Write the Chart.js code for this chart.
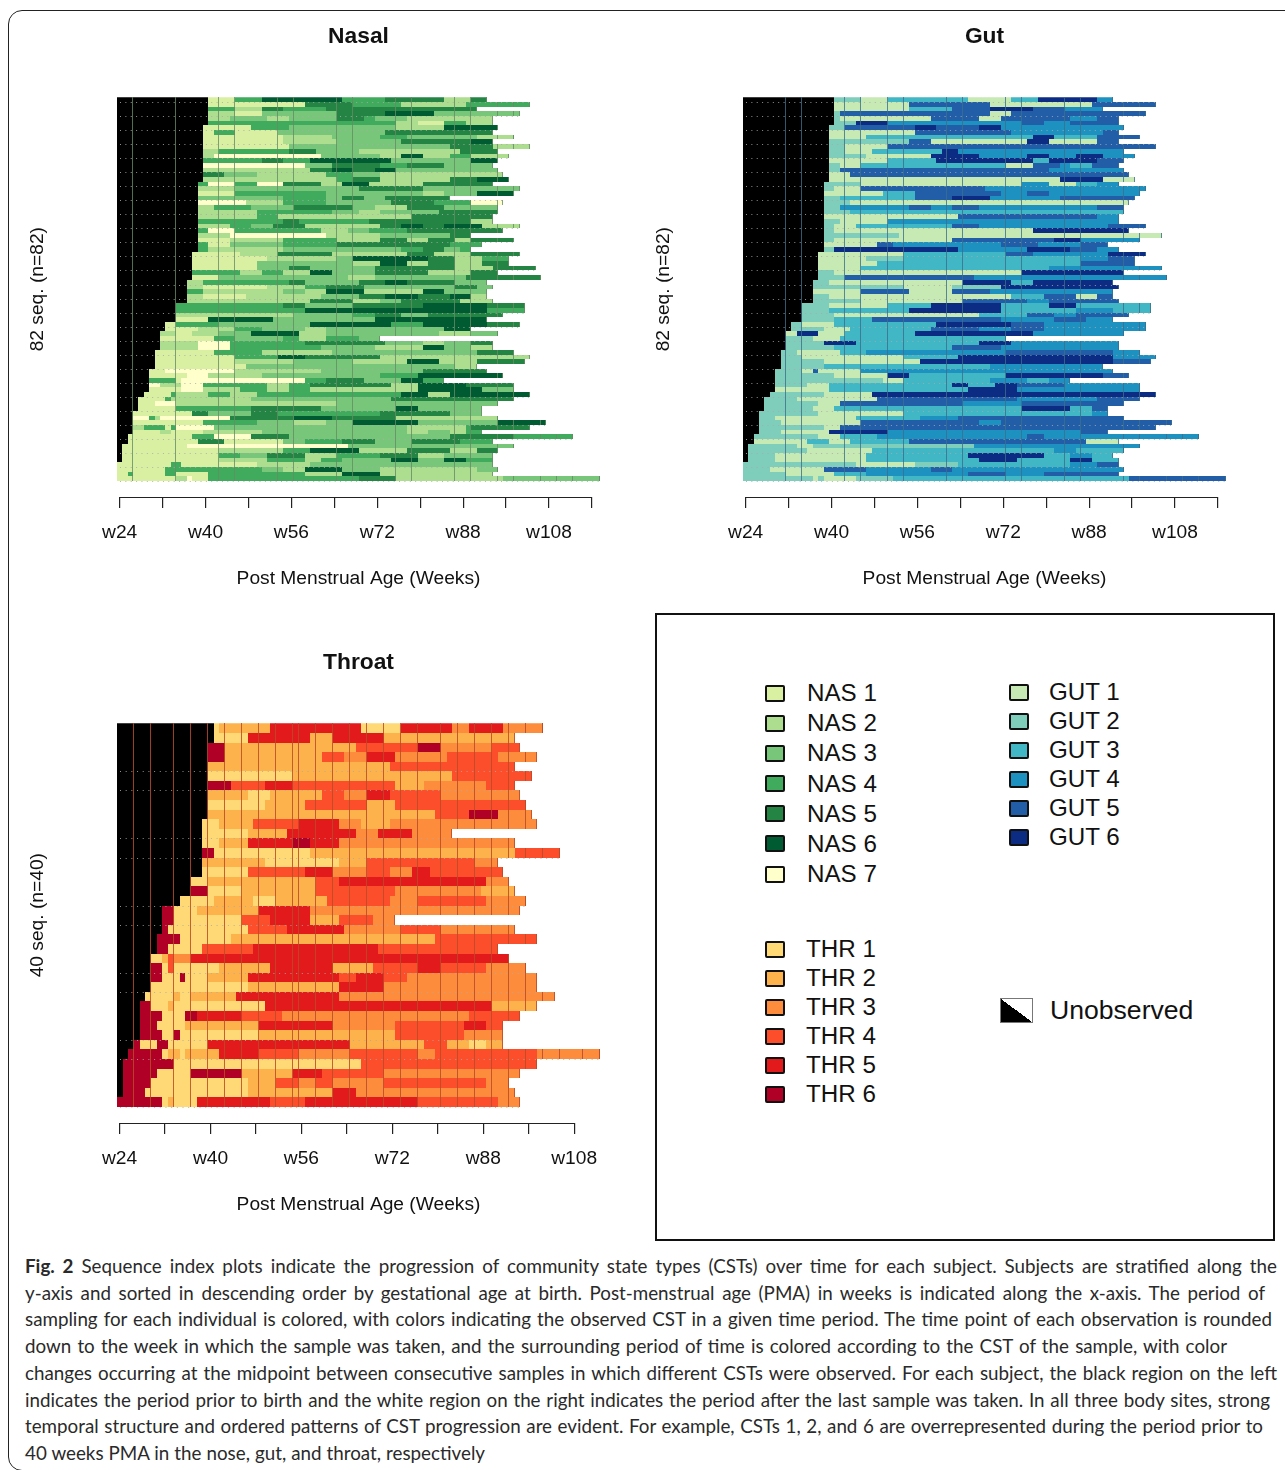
<!DOCTYPE html>
<html>
<head>
<meta charset="utf-8">
<title>Fig. 2</title>
<script src="https://cdn.jsdelivr.net/npm/chart.js@4"></script>
<style>
html, body { margin: 0; padding: 0; background: #fff; }
body { position: relative; width: 1285px; height: 1470px; overflow: hidden; font-family: "Liberation Sans", Arial, sans-serif; color: #111; }
#frame { position: absolute; left: 8px; top: 10px; width: 1400px; height: 1461px; border: 1.3px solid #222; border-radius: 14px; box-sizing: border-box; }
.wrap { position: absolute; width: 590px; height: 585px; }
.wrap canvas { display: block; }
#panel { position: absolute; left: 655px; top: 613px; width: 620px; height: 628px; border: 2px solid #111; box-sizing: border-box; }
.key { position: absolute; font-size: 24.2px; line-height: 28px; white-space: nowrap; }
.swatch { position: absolute; width: 20px; height: 17px; border: 2px solid #111; border-radius: 2px; box-sizing: border-box; }
#unobs { position: absolute; left: 1000px; top: 998px; width: 33px; height: 25px; border: 1px solid #777; box-sizing: border-box; background: linear-gradient(to top right, #000 50%, #fff 50%); }
.cap { position: absolute; left: 25px; height: 26px; line-height: 26px; font-family: Lato, "Open Sans", sans-serif; font-size: 18.8px; color: #2a2a2a; white-space: nowrap; text-align: justify; text-align-last: justify; }
</style>
</head>
<body>
<div id="frame"></div>
<div class="wrap" style="left:15px;top:15px"><canvas id="nasalChart" width="590" height="585"></canvas></div>
<div class="wrap" style="left:641px;top:15px"><canvas id="gutChart" width="590" height="585"></canvas></div>
<div class="wrap" style="left:15px;top:641px"><canvas id="throatChart" width="590" height="585"></canvas></div>
<div id="panel"></div>
<div id="unobs"></div>
<div id="legend"></div>
<div id="caption"></div>

<script>
// each row: state, end week (counted from the left edge of the plot), state, end week ...
// state 0 is the black "before birth" stretch
var nasalRows = [
    [0,17,1,22,4,27,6,42,4,50,5,61,2,66,5,69],
    [0,17,1,35,5,44,4,53,2,65,4,77],
    [0,17,4,22,2,27,5,31,4,39,5,67],
    [0,17,2,22,1,27,3,41,5,50,6,59,3,75],
    [0,17,2,21,3,28,2,32,3,41,5,46,4,48,3,54,2,70],
    [0,17,4,52,2,56,1,61,4,65,2,70],
    [0,16,1,25,4,32,3,52,2,61,6,71],
    [0,16,1,18,4,22,1,30,3,50,5,70],
    [0,16,1,31,2,40,3,49,4,54,3,67,2,74],
    [0,16,1,31,2,41,3,53,5,66,6,70],
    [0,16,1,32,3,62,5,70,2,77],
    [0,16,2,19,4,32,5,37,3,45,2,64,5,71],
    [0,16,2,18,7,38,3,49,2,53,6,57,2,62,4,66,2,73],
    [0,16,4,27,5,31,4,36,6,51,3,66,6,71],
    [0,16,7,35,3,40,5,49,4,54,5,61,3,70],
    [0,16,2,36,5,40,6,44,5,48,6,52,3,71],
    [0,16,5,20,3,26,2,39,4,44,3,49,2,72],
    [0,16,2,41,4,44,5,49,2,62,5,67,6,73],
    [0,15,4,17,7,22,4,26,7,31,5,38,2,42,6,47,2,57,5,70],
    [0,15,2,22,3,45,5,57,3,75],
    [0,15,1,22,4,39,3,57,2,61,3,67,6,74],
    [0,15,3,31,4,39,3,42,5,46,3,50,5,62],
    [0,15,7,24,2,31,4,39,3,51,5,59,4,66,7,72],
    [0,15,2,18,4,25,3,33,5,44,3,48,2,54,5,61,3,71],
    [0,15,2,26,4,40,3,45,2,49,3,60,5,71],
    [0,15,2,26,4,30,2,55,5,70],
    [0,15,4,31,5,34,4,47,5,66,2,70],
    [0,15,2,21,4,25,3,29,5,35,2,49,5,53,6,57,5,61,6,68,2,75],
    [0,15,4,17,7,22,4,38,2,43,3,47,4,54,5,72],
    [0,15,2,21,7,39,2,49,3,62,5,66],
    [0,15,1,21,2,31,4,41,2,49,5,54,2,58,5,63,2,66,5,74],
    [0,15,4,17,1,21,3,31,4,41,5,62,4,68],
    [0,15,4,17,2,31,3,53,4,57,5,61,3,64,4,66],
    [0,14,1,23,2,30,5,40,2,54,5,59,2,66,5,75],
    [0,14,1,28,2,41,3,44,6,58,5,63,2,68,4,73],
    [0,14,1,26,3,44,2,49,6,54,2,58,5,63,2,68,5,73],
    [0,14,1,26,3,32,5,36,3,48,5,63,2,70,5,78],
    [0,14,4,23,2,27,4,31,2,36,6,40,3,48,5,58,2,66,5,71],
    [0,14,1,19,3,43,2,48,3,65,5,79],
    [0,13,2,16,4,32,5,35,3,45,5,50,6,54,5,63,3,69],
    [0,13,2,16,1,28,2,35,4,39,5,46,3,63,5,67,3,70],
    [0,13,4,16,2,31,3,35,2,39,6,46,2,57,6,61,3,69],
    [0,13,2,16,1,24,2,38,3,45,5,50,6,56,5,62,6,66,2,69],
    [0,13,2,36,5,44,2,49,3,53,5,64,2,70],
    [0,11,4,31,5,35,3,44,5,57,6,69,5,76],
    [0,11,4,35,6,69,4,76],
    [0,11,2,33,3,44,4,48,5,53,3,58,5,72],
    [0,11,1,17,6,29,3,48,6,69],
    [0,9,1,11,4,19,3,36,6,51,4,57,6,69,5,75],
    [0,9,1,15,2,22,4,27,3,35,2,39,3,61,6,66],
    [0,8,2,11,1,14,2,19,3,25,6,34,2,39,3,60,2,66,3,71],
    [0,8,1,18,4,22,3,31,4,34,2,39,4,45,3,49],
    [0,8,2,15,7,21,4,35,5,50,3,57,2,61,3,66,5,70],
    [0,8,2,15,7,21,4,38,3,48,2,57,6,61,3,66,2,70],
    [0,7,1,18,4,27,2,40,3,67,5,74],
    [0,7,1,22,4,30,6,35,5,49,2,77],
    [0,7,1,22,2,33,3,44,2,54,6,60,2,67,5,76],
    [0,7,1,24,3,63,2,67],
    [0,6,1,9,7,22,2,38,3,57,5,69],
    [0,6,1,13,7,17,2,27,3,49,4,56,6,72],
    [0,6,4,11,1,12,7,35,4,39,5,46,3,53,6,57,4,61],
    [0,6,7,8,2,12,7,16,4,28,2,32,4,36,5,51,2,56,6,65,5,74],
    [0,6,1,12,7,16,2,23,4,28,2,32,4,36,2,56,6,68,3,74],
    [0,5,1,10,4,11,2,17,4,21,2,26,4,53,6,58,2,62,6,77],
    [0,4,1,9,4,10,2,25,3,51,5,74],
    [0,4,1,7,7,11,2,41,3,71],
    [0,4,1,11,4,25,5,38,3,52,6,56,3,68],
    [0,3,1,14,5,17,3,25,5,30,4,49,5,62,3,68],
    [0,3,7,6,4,7,2,8,7,21,5,33,6,40,5,52,2,71],
    [0,3,1,16,4,26,3,33,2,39,3,44,6,56,3,71,6,80],
    [0,3,2,5,4,9,1,10,4,11,7,18,3,54,2,65,4,66,5,77],
    [0,3,1,8,2,10,1,16,2,27,3,54,2,58,3,62,2,65,4,68],
    [0,2,1,14,4,18,7,25,5,32,3,62,5,74,4,85],
    [0,2,1,15,5,20,1,31,3,35,4,42,5,48,3,55,5,64,4,70],
    [0,1,1,13,7,43,3,74],
    [0,1,1,19,2,31,4,36,6,45,2,54,5,62,2,67,5,71],
    [0,1,1,19,4,23,3,28,5,35,2,41,4,49,5,56,2,61,3,70],
    [0,1,1,19,2,28,4,35,2,38,4,42,3,51,6,56,3,61,6,65,4,70],
    [1,10,4,12,1,26,2,36,3,70],
    [1,9,4,27,3,31,2,35,6,42,3,49,2,67,3,71],
    [1,2,4,3,1,9,4,11,1,17,4,35,2,42,6,49,2,70],
    [1,11,2,13,7,14,1,17,4,45,5,52,2,72,3,90]
];

var gutRows = [
    [0,17,2,22,1,27,3,42,1,50,3,55,6,66,4,69],
    [0,17,1,31,5,46,1,65,5,77],
    [0,17,1,31,3,39,5,46,6,54,5,60,4,67],
    [0,17,2,18,5,46,1,50,5,75],
    [0,17,2,18,1,35,5,44,1,48,5,61,4,66,5,70],
    [0,17,2,21,6,27,4,52,5,56,4,61,5,70],
    [0,16,2,19,5,32,6,36,5,44,6,48,4,71],
    [0,16,1,32,5,50,4,67,5,70],
    [0,16,1,23,3,54,6,58,3,66,5,74],
    [0,16,2,31,5,35,1,53,6,57,1,66,5,70],
    [0,16,2,19,1,27,5,77],
    [0,16,2,19,1,24,3,37,6,40,4,71],
    [0,16,2,23,1,35,6,44,4,53,6,57,4,62,6,67,4,73],
    [0,16,1,27,3,36,6,54,3,57,6,66,5,71],
    [0,16,2,18,1,22,3,49,1,54,5,59,4,61,3,65,5,70],
    [0,16,2,18,5,57,4,71],
    [0,16,1,20,5,72],
    [0,16,1,59,6,67,1,73],
    [0,15,2,22,1,52,4,57,1,62,3,66,4,70],
    [0,15,2,17,1,22,5,45,4,75],
    [0,15,1,26,3,32,5,48,4,53,5,57,4,74],
    [0,15,2,18,3,32,5,39,6,46,4,59,5,73],
    [0,15,2,20,1,72],
    [0,15,2,18,4,31,5,35,4,39,5,44,4,66,5,71],
    [0,15,2,20,3,71],
    [0,15,1,40,5,66,4,70],
    [0,15,2,18,1,27,4,70],
    [0,15,2,17,1,21,3,39,5,44,4,68,5,75],
    [0,15,2,17,1,54,6,72],
    [0,15,2,29,1,78],
    [0,15,2,17,1,39,5,58,6,63,4,74],
    [0,15,1,25,5,28,4,48,5,55,4,63,5,68],
    [0,15,2,17,6,40,4,53,6,61,5,66,4,70],
    [0,14,1,30,3,49,5,54,4,68,6,75],
    [0,14,1,23,2,30,3,63,4,68,5,73],
    [0,14,1,25,3,63,5,73],
    [0,14,1,22,3,57,4,78],
    [0,14,2,17,1,52,6,71],
    [0,14,2,19,5,43,4,79],
    [0,13,2,16,1,41,6,50,3,54,6,69],
    [0,13,2,30,1,39,2,48,6,70],
    [0,13,1,22,5,31,1,39,5,46,4,69],
    [0,13,2,16,1,50,3,56,5,62,1,66,5,69],
    [0,13,2,22,1,41,5,53,4,57,5,70],
    [0,11,2,16,1,27,3,35,6,48,3,57,6,62,3,76],
    [0,11,2,16,3,31,6,48,3,62,4,69,3,76],
    [0,11,2,17,1,44,3,53,5,58,4,62,5,72],
    [0,11,2,17,3,24,5,48,4,58,5,64,4,69],
    [0,9,2,11,1,17,3,36,6,50,5,56,4,75],
    [0,9,2,15,1,20,3,35,5,44,4,50,5,56,4,75],
    [0,8,1,10,6,14,1,19,3,32,6,54,4,71],
    [0,8,2,13,1,18,3,49],
    [0,8,2,15,6,21,3,44,6,50,4,70],
    [0,8,2,17,3,39,5,48,4,70],
    [0,7,2,10,1,18,3,23,4,49,5,69,4,74],
    [0,7,2,11,1,30,3,40,6,69,4,77],
    [0,7,2,15,1,33,6,69,5,76],
    [0,7,2,15,3,46,4,67],
    [0,6,2,11,1,13,5,14,1,22,4,69],
    [0,6,2,17,1,27,6,31,3,49,6,67,5,72],
    [0,6,2,26,1,30,3,46,4,53,3,57,4,61],
    [0,6,2,12,1,16,3,39,6,42,3,47,6,51,5,60,4,74],
    [0,6,1,16,3,42,6,51,4,74],
    [0,5,2,15,1,24,6,77],
    [0,4,2,10,1,25,5,51,4,66,5,74],
    [0,4,2,14,1,18,5,41,4,52,5,71],
    [0,4,2,13,1,17,3,52,6,61,3,65,5,68],
    [0,3,2,14,1,30,3,65,4,68],
    [0,3,2,6,1,21,3,33,4,40,5,71],
    [0,3,2,7,1,22,5,44,4,48,5,80],
    [0,3,2,15,1,18,5,77],
    [0,3,2,7,1,16,6,27,4,63,5,68],
    [0,2,2,14,1,18,3,25,4,53,5,56,4,85],
    [0,2,1,12,3,16,1,20,3,31,5,64,1,70],
    [0,1,2,10,1,13,2,43,4,74],
    [0,1,2,12,1,24,3,58,4,62,3,71],
    [0,1,2,6,1,23,3,42,6,56,3,61,4,65,3,69],
    [0,1,2,6,1,23,3,44,6,51,3,61,6,65,3,70],
    [2,21,1,32,2,40,3,61,4,66,5,70],
    [2,5,1,15,5,23,4,35,5,39,4,71],
    [2,8,1,17,3,23,4,42,5,49,4,56,5,70],
    [2,13,1,14,2,15,1,21,2,28,3,72,5,90]
];

var throatRows = [
    [0,17,1,18,2,27,5,43,1,50,5,59,3,62,5,68,3,75],
    [0,17,1,23,5,34,2,38,5,47,2,70],
    [0,16,6,19,2,42,4,53,6,57,3,66,4,71],
    [0,16,6,19,2,36,4,40,3,44,5,49,3,58,4,67,3,74],
    [0,16,2,48,4,70],
    [0,16,1,31,2,59,4,73],
    [0,16,6,20,4,26,5,31,4,49,2,54,3,65,4,70],
    [0,16,2,23,1,27,2,36,4,40,3,44,5,48,4,57,3,71],
    [0,16,1,26,2,33,4,44,2,49,4,72],
    [0,16,2,56,4,62,6,67,3,73],
    [0,15,1,18,2,24,4,32,5,39,3,43,2,48,3,74],
    [0,15,1,23,2,30,5,42,3,46,5,52,3,59],
    [0,15,1,18,2,23,5,31,6,34,5,39,3,70],
    [0,15,6,17,1,34,2,70,4,78],
    [0,15,2,26,1,39,2,44,4,63,3,67],
    [0,15,1,23,4,33,5,38,3,44,4,48,3,52,5,55,4,68],
    [0,13,1,16,2,35,4,39,5,65,3,69],
    [0,13,6,16,1,22,2,35,4,49,3,64,2,70],
    [0,11,1,17,2,24,1,28,2,37,4,48,3,53,4,65,3,72],
    [0,8,6,10,1,14,2,25,5,34,3,71],
    [0,8,6,10,1,22,4,27,5,34,2,39,4,45,3,49],
    [0,8,6,9,1,23,4,30,5,40,3,50,4,57,3,70],
    [0,7,6,11,1,20,2,56,4,74],
    [0,7,6,9,1,15,4,24,5,46,4,67],
    [0,6,1,8,2,9,4,10,3,13,5,69],
    [0,6,6,8,1,9,4,10,1,18,2,27,5,38,2,45,4,53,5,57,4,65,3,72],
    [0,6,6,8,1,11,6,12,1,16,2,23,5,39,4,42,5,47,4,51,3,74],
    [0,6,1,23,2,39,5,47,3,74],
    [0,5,1,10,2,11,1,13,2,21,5,39,3,77],
    [0,4,6,6,1,9,2,10,1,26,5,66,2,74],
    [0,4,6,8,1,12,6,14,5,22,4,29,3,62,4,71],
    [0,4,6,7,1,12,2,25,5,38,3,49,4,61,5,65,4,68],
    [0,4,6,8,1,10,6,11,1,25,2,49,4,61,3,68],
    [0,3,6,4,1,7,6,9,1,16,5,41,2,54,4,58,2,62,1,65,2,68],
    [0,2,6,8,1,9,2,11,1,12,2,18,5,25,4,32,3,41,4,53,3,56,4,74,3,85],
    [0,1,6,10,1,43,4,74],
    [0,1,6,7,1,13,6,22,2,31,5,36,4,47,3,71],
    [0,1,6,6,1,23,2,28,4,32,3,35,4,38,3,47,4,65,3,69],
    [0,1,6,5,1,23,2,38,5,42,3,70],
    [6,8,1,9,2,10,1,14,5,27,4,33,5,53,4,67,3,71]
];

// weeks where a sampling line runs through the rows
var nasalLines = [3, 11, 19, 22, 30, 33, 41, 44, 52, 55, 63, 66, 71, 74, 79, 82, 85, 90];
var gutLines = [8, 11, 19, 22, 27, 30, 38, 41, 49, 52, 60, 63, 71, 74, 79, 82, 85, 90];
var throatLines = [3, 6, 10, 13, 16, 19, 22, 25, 28, 31, 32, 35, 38, 41, 44, 47, 50, 53, 57, 60, 63, 66, 69, 72, 75, 78, 82, 85];

// row tops with a dotted line
var nasalDots = [1, 4, 7, 10, 13, 16, 19, 22, 25, 28, 31, 34, 37, 40, 43, 46, 49, 52, 55, 58, 61, 64, 67, 70, 73, 76, 79, 82];
var throatDots = [5, 7, 12, 14, 19, 21, 26, 28, 33, 35, 40];

// axis ticks
var longTicks = [0.5, 8.5, 16.5, 24.5, 32.5, 40.5, 48.5, 56.5, 64.5, 72.5, 80.5, 88.5];
var longLabels = ["w24", "", "w40", "", "w56", "", "w72", "", "w88", "", "w108", ""];
var shortTicks = [0.45, 8.45, 16.45, 24.45, 32.45, 40.45, 48.45, 56.45, 64.45, 72.45, 80.45];
var shortLabels = ["w24", "", "w40", "", "w56", "", "w72", "", "w88", "", "w108"];

// state colours, index 0 is black
var nasColors = ["#000000", "#d9f0a3", "#addd8e", "#78c679", "#41ab5d", "#238443", "#005a32", "#ffffcc"];
var gutColors = ["#000000", "#c7e9b4", "#7fcdbb", "#41b6c4", "#1d91c0", "#225ea8", "#0c2c84"];
var thrColors = ["#000000", "#fed976", "#feb24c", "#fd8d3c", "#fc4e2a", "#e31a1c", "#b10026"];

var nasLabels = ["NAS 1", "NAS 2", "NAS 3", "NAS 4", "NAS 5", "NAS 6", "NAS 7"];
var gutLabels = ["GUT 1", "GUT 2", "GUT 3", "GUT 4", "GUT 5", "GUT 6"];
var thrLabels = ["THR 1", "THR 2", "THR 3", "THR 4", "THR 5", "THR 6"];

var captionLines = [
    "Sequence index plots indicate the progression of community state types (CSTs) over time for each subject. Subjects are stratified along the",
    "y-axis and sorted in descending order by gestational age at birth. Post-menstrual age (PMA) in weeks is indicated along the x-axis. The period of",
    "sampling for each individual is colored, with colors indicating the observed CST in a given time period. The time point of each observation is rounded",
    "down to the week in which the sample was taken, and the surrounding period of time is colored according to the CST of the sample, with color",
    "changes occurring at the midpoint between consecutive samples in which different CSTs were observed. For each subject, the black region on the left",
    "indicates the period prior to birth and the white region on the right indicates the period after the last sample was taken. In all three body sites, strong",
    "temporal structure and ordered patterns of CST progression are evident. For example, CSTs 1, 2, and 6 are overrepresented during the period prior to",
    "40 weeks PMA in the nose, gut, and throat, respectively"
];
var captionWidths = [1252, 1240, 1247, 1202, 1252, 1245, 1238, 460];

// thin lines and dots over the bars
var overlayPlugin = {
    id: "overlay",
    // snap the bars to whole pixels so the rows stay crisp
    beforeDatasetsDraw: function (chart) {
        chart.data.datasets.forEach(function (ds, i) {
            chart.getDatasetMeta(i).data.forEach(function (bar) {
                var top = Math.round(bar.y - bar.height / 2);
                var bottom = Math.round(bar.y + bar.height / 2);
                bar.y = (top + bottom) / 2;
                bar.height = bottom - top;
                bar.x = Math.round(bar.x);
                bar.base = Math.round(bar.base);
            });
        });
    },
    afterDatasetsDraw: function (chart, args, opts) {
        var c = chart.ctx;
        var xs = chart.scales.x;
        var area = chart.chartArea;
        var band = area.height / opts.rows.length;
        c.save();

        // sampling lines stop where the row stops
        opts.rows.forEach(function (row, i) {
            var top = Math.round(area.top + i * band);
            var h = Math.round(area.top + (i + 1) * band) - top;
            var end = row[row.length - 1];
            c.fillStyle = opts.lineColor;
            opts.lines.forEach(function (w) {
                if (w <= end) {
                    c.fillRect(Math.round(xs.getPixelForValue(w)) - 1, top, 1, h);
                }
            });
            c.fillRect(Math.round(xs.getPixelForValue(end)) - 1, top, 1, h);
        });

        c.strokeStyle = "rgba(170,170,170,0.85)";
        c.lineWidth = 1;
        c.setLineDash([1, xs.getPixelForValue(1) - xs.getPixelForValue(0) - 1]);
        opts.dots.forEach(function (r) {
            var y = Math.round(area.top + r * band) + 0.5;
            var above = opts.rows[r - 1] ? opts.rows[r - 1][opts.rows[r - 1].length - 1] : 0;
            var below = opts.rows[r] ? opts.rows[r][opts.rows[r].length - 1] : 0;
            c.beginPath();
            c.moveTo(area.left + 3, y);
            c.lineTo(xs.getPixelForValue(Math.max(above, below)), y);
            c.stroke();
        });
        c.restore();

        // bottom axis line runs from the first tick to the last
        var ax = chart.scales.x2;
        var first = ax.getPixelForValue(opts.ticks[0]);
        var last = ax.getPixelForValue(opts.ticks[opts.ticks.length - 1]);
        c.save();
        c.strokeStyle = "#222";
        c.lineWidth = 1.2;
        c.beginPath();
        c.moveTo(first, ax.top + 0.5);
        c.lineTo(last, ax.top + 0.5);
        c.stroke();
        c.restore();
    }
};

function buildDatasets(rows, colors) {
    var most = 0;
    rows.forEach(function (r) { most = Math.max(most, r.length / 2); });
    var sets = [];
    for (var s = 0; s < most; s++) {
        var values = [];
        var fills = [];
        rows.forEach(function (r) {
            var k = s * 2;
            if (k < r.length) {
                var start = k === 0 ? 0 : r[k - 1];
                values.push(r[k + 1] - start);
                fills.push(colors[r[k]]);
            } else {
                values.push(null);
                fills.push("#fff");
            }
        });
        sets.push({
            data: values,
            backgroundColor: fills,
            borderWidth: 0,
            inflateAmount: 0,
            barPercentage: 1,
            categoryPercentage: 1,
            stack: "one"
        });
    }
    return sets;
}

function makeChart(id, name, seqLabel, rows, colors, lines, dots, maxWeek, tickAt, tickText, lineColor) {
    var labels = rows.map(function (r, i) { return i + 1; });
    return new Chart(document.getElementById(id), {
        type: "bar",
        data: { labels: labels, datasets: buildDatasets(rows, colors) },
        plugins: [overlayPlugin],
        options: {
            responsive: false,
            animation: false,
            indexAxis: "y",
            events: [],
            layout: { padding: { right: 5 } },
            plugins: {
                legend: { display: false },
                tooltip: { enabled: false },
                title: {
                    display: true,
                    text: name,
                    fullSize: false,
                    color: "#111",
                    font: { family: "Liberation Sans", size: 22.8, weight: "bold" },
                    padding: { top: 8.5, bottom: 46.5 }
                },
                overlay: { rows: rows, lines: lines, dots: dots, lineColor: lineColor, ticks: tickAt }
            },
            scales: {
                x: {
                    type: "linear",
                    stacked: true,
                    min: 0,
                    max: maxWeek,
                    position: "bottom",
                    weight: 0,
                    grid: { display: false },
                    border: { display: false },
                    ticks: { display: false },
                    afterFit: function (scale) { scale.height = 16; }
                },
                x2: {
                    type: "linear",
                    axis: "x",
                    min: 0,
                    max: maxWeek,
                    position: "bottom",
                    weight: 1,
                    border: { display: false },
                    grid: { drawOnChartArea: false, color: "#222", lineWidth: 1.2, tickLength: 11 },
                    afterBuildTicks: function (scale) {
                        scale.ticks = tickAt.map(function (v) { return { value: v }; });
                    },
                    ticks: {
                        autoSkip: false,
                        maxRotation: 0,
                        padding: 13,
                        color: "#111",
                        font: { family: "Liberation Sans", size: 19.2 },
                        callback: function (value, index) { return tickText[index]; }
                    },
                    title: {
                        display: true,
                        text: "Post Menstrual Age (Weeks)",
                        color: "#111",
                        font: { family: "Liberation Sans", size: 19.2 },
                        padding: { top: 0, bottom: 10 }
                    },
                    afterFit: function (scale) {
                        scale.height = 103;
                        scale.paddingLeft = 0;
                        scale.paddingRight = 0;
                    }
                },
                y: {
                    type: "category",
                    stacked: true,
                    grid: { display: false },
                    border: { display: false },
                    ticks: { display: false, autoSkip: false },
                    title: {
                        display: true,
                        text: seqLabel,
                        color: "#111",
                        font: { family: "Liberation Sans", size: 19.2 },
                        padding: { top: 11, bottom: 0 }
                    },
                    afterFit: function (scale) { scale.width = 102; }
                }
            }
        }
    });
}

makeChart("nasalChart", "Nasal", "82 seq. (n=82)", nasalRows, nasColors, nasalLines, nasalDots, 90, longTicks, longLabels, "rgba(100,140,100,0.8)");
makeChart("gutChart", "Gut", "82 seq. (n=82)", gutRows, gutColors, gutLines, nasalDots, 90, longTicks, longLabels, "rgba(60,110,140,0.8)");
makeChart("throatChart", "Throat", "40 seq. (n=40)", throatRows, thrColors, throatLines, throatDots, 85, shortTicks, shortLabels, "rgba(185,75,40,0.85)");

// legend panel
function addKeys(labels, colors, swatchX, textX, firstY, step) {
    var box = document.getElementById("legend");
    labels.forEach(function (text, i) {
        var cy = firstY + i * step;
        var sw = document.createElement("div");
        sw.className = "swatch";
        sw.style.left = swatchX + "px";
        sw.style.top = (cy - 8.5) + "px";
        sw.style.background = colors[i + 1];
        box.appendChild(sw);
        var t = document.createElement("div");
        t.className = "key";
        t.style.left = textX + "px";
        t.style.top = (cy - 14) + "px";
        t.textContent = text;
        box.appendChild(t);
    });
}
addKeys(nasLabels, nasColors, 765, 807, 693, 30.17);
addKeys(gutLabels, gutColors, 1009, 1049, 692, 29);
addKeys(thrLabels, thrColors, 765, 806, 949, 29);

var unobs = document.createElement("div");
unobs.className = "key";
unobs.style.left = "1050px";
unobs.style.top = "996px";
unobs.style.fontSize = "26.6px";
unobs.textContent = "Unobserved";
document.getElementById("legend").appendChild(unobs);

// caption, one box per printed line
var capBox = document.getElementById("caption");
captionLines.forEach(function (text, i) {
    var d = document.createElement("div");
    d.className = "cap";
    d.style.top = (1253 + i * 26.7) + "px";
    d.style.width = captionWidths[i] + "px";
    if (i === 0) {
        var b = document.createElement("b");
        b.textContent = "Fig. 2";
        d.appendChild(b);
        d.appendChild(document.createTextNode(" " + text));
    } else {
        d.textContent = text;
    }
    capBox.appendChild(d);
});
</script>
</body>
</html>
